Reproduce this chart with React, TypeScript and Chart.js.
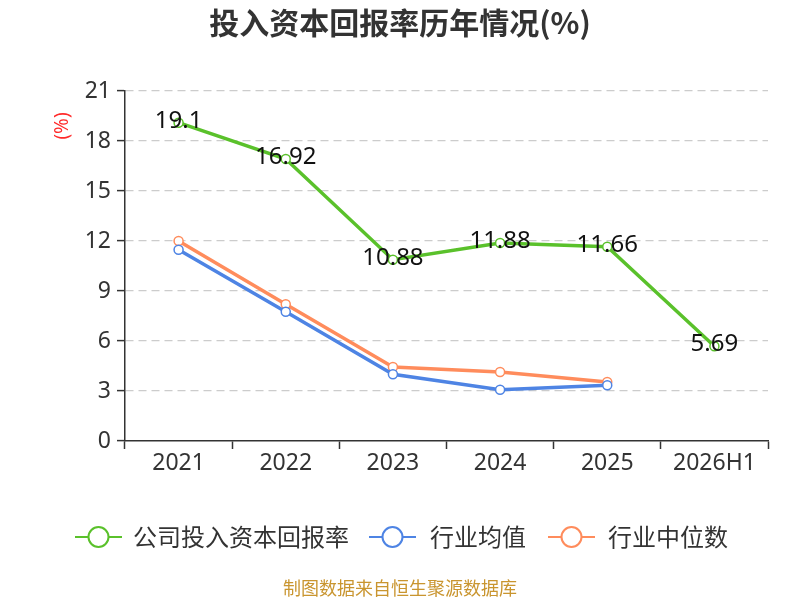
import React, { useEffect, useRef } from "react";
import { Chart, registerables } from "chart.js";

Chart.register(...registerables);

const categories = ["2021", "2022", "2023", "2024", "2025", "2026H1"];
const companyValues = [19.1, 16.92, 10.88, 11.88, 11.66, 5.69];
const industryAvg = [11.48, 7.76, 4.0, 3.08, 3.34, null];
const industryMedian = [12.0, 8.2, 4.44, 4.14, 3.54, null];
const yTicks = [0, 3, 6, 9, 12, 15, 18, 21];
const seriesNames = ["公司投入资本回报率", "行业均值", "行业中位数"];
const seriesColors = ["#5ac12b", "#4e84e4", "#ff8c5c"];

const FONT = "'Noto Sans', 'Noto Sans CJK SC', sans-serif";

const overlayPlugin = {
  id: "overlay",
  afterDatasetsDraw(chart: any) {
    const ctx = chart.ctx;
    const meta = chart.getDatasetMeta(0);
    ctx.save();
    ctx.font = `24px ${FONT}`;
    ctx.fillStyle = "#111";
    ctx.textAlign = "center";
    ctx.textBaseline = "middle";
    meta.data.forEach((pt: any, i: number) => {
      ctx.fillText(String(companyValues[i]), pt.x, pt.y - 2);
    });
    ctx.restore();
  },
  afterDraw(chart: any) {
    const ctx = chart.ctx;
    ctx.save();
    ctx.font = `bold 30px 'Noto Sans CJK SC', sans-serif`;
    ctx.fillStyle = "#333";
    ctx.textAlign = "center";
    ctx.textBaseline = "middle";
    ctx.fillText("投入资本回报率历年情况(%)", 400, 23);
    ctx.save();
    ctx.translate(63, 126);
    ctx.rotate(-Math.PI / 2);
    ctx.font = `19px ${FONT}`;
    ctx.fillStyle = "#ff2a2a";
    ctx.fillText("(%)", 0, 0);
    ctx.restore();
    const items = [
      { x: 75, textX: 133 },
      { x: 369, textX: 430 },
      { x: 548, textX: 608 },
    ];
    items.forEach((it, i) => {
      const y = 537;
      ctx.strokeStyle = seriesColors[i];
      ctx.lineWidth = 2;
      ctx.beginPath();
      ctx.moveTo(it.x, y);
      ctx.lineTo(it.x + 47, y);
      ctx.stroke();
      ctx.beginPath();
      ctx.arc(it.x + 23.5, y, 10, 0, Math.PI * 2);
      ctx.fillStyle = "#fff";
      ctx.fill();
      ctx.stroke();
      ctx.font = `24px 'Noto Sans CJK SC', sans-serif`;
      ctx.fillStyle = "#333";
      ctx.textAlign = "left";
      ctx.fillText(seriesNames[i], it.textX, y);
    });
    ctx.font = `18px 'Noto Sans CJK SC', sans-serif`;
    ctx.fillStyle = "#c9952f";
    ctx.textAlign = "center";
    ctx.fillText("制图数据来自恒生聚源数据库", 400, 588);
    ctx.restore();
  },
};

export default function App() {
  const ref = useRef<HTMLCanvasElement>(null);
  useEffect(() => {
    document.body.style.margin = "0";
    const mkDs = (label: string, data: any[], color: string) => ({
      label,
      data,
      borderColor: color,
      backgroundColor: "#fff",
      borderWidth: 3.5,
      pointRadius: 4.5,
      pointBorderWidth: 1.5,
      pointBackgroundColor: "#fff",
      pointBorderColor: color,
      tension: 0,
      spanGaps: false,
    });
    const chart = new Chart(ref.current as HTMLCanvasElement, {
      type: "line",
      data: {
        labels: categories,
        datasets: [
          mkDs(seriesNames[0], companyValues, seriesColors[0]),
          mkDs(seriesNames[1], industryAvg, seriesColors[1]),
          mkDs(seriesNames[2], industryMedian, seriesColors[2]),
        ],
      },
      options: {
        animation: false,
        responsive: false,
        layout: { padding: { left: 0, right: 32, top: 91, bottom: 119 } },
        plugins: {
          legend: { display: false },
          title: { display: false },
          tooltip: { enabled: false },
        },
        scales: {
          x: {
            offset: true,
            afterFit: (s: any) => {
              s.height = 40;
            },
            grid: {
              offset: true,
              drawOnChartArea: false,
              drawTicks: true,
              tickLength: 8,
              tickColor: "#333",
              tickWidth: 1.5,
            },
            border: { color: "#333", width: 1.5 },
            ticks: {
              color: "#333",
              font: { size: 23, family: FONT },
              padding: 1,
            },
          },
          y: {
            min: 0,
            max: 21,
            afterFit: (s: any) => {
              s.width = 125;
            },
            afterBuildTicks: (s: any) => {
              s.ticks = yTicks.map((v) => ({ value: v }));
            },
            grid: {
              color: (c: any) => (c.tick && c.tick.value === 0 ? "rgba(0,0,0,0)" : "#cccccc"),
              lineWidth: 1.2,
              drawTicks: true,
              tickLength: 8,
              tickColor: "#333",
              tickWidth: 1.5,
            },
            border: { color: "#333", width: 1.5, dash: [8, 5] },
            ticks: {
              color: "#333",
              font: { size: 23, family: FONT },
              padding: 6,
            },
          },
        },
      },
      plugins: [overlayPlugin],
    } as any);
    return () => chart.destroy();
  }, []);
  return (
    <div style={{ width: 800, height: 600 }}>
      <canvas ref={ref} width={800} height={600} style={{ width: 800, height: 600 }} />
    </div>
  );
}
